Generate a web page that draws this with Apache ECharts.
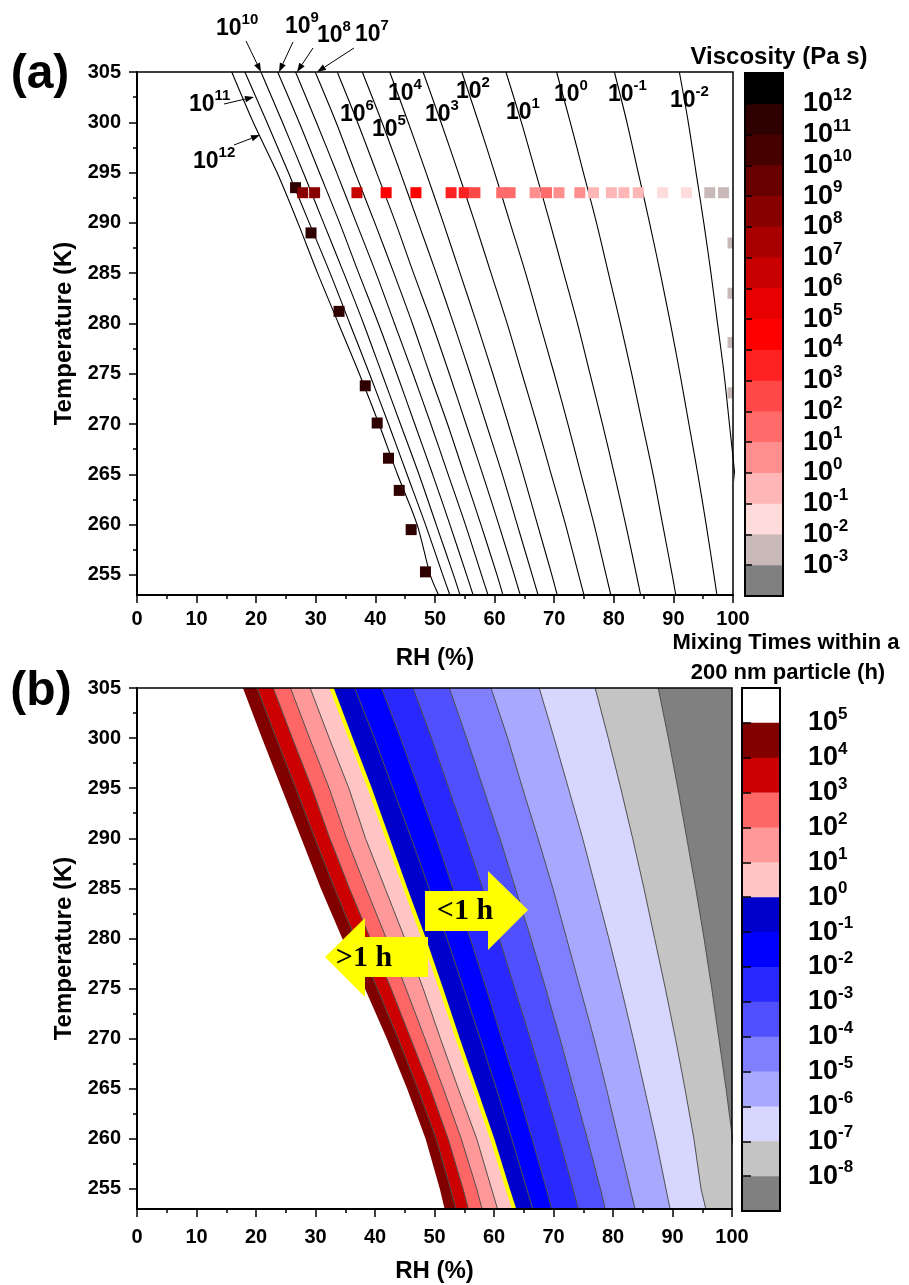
<!DOCTYPE html>
<html>
<head>
<meta charset="utf-8">
<script src="https://cdn.jsdelivr.net/npm/echarts@6/dist/echarts.min.js"></script>
<style>
  html, body { margin: 0; padding: 0; background: #fff; }
  #main { width: 909px; height: 1285px; }
</style>
</head>
<body>
<div id="main"></div>
<script>
// temperature nodes (K) where each contour RH (%) was read
const tempNodes = [305, 300, 295, 290, 285, 280, 275, 270, 265, 260, 255, 253];

// (a) viscosity contours, RH (%) at each temperature node
const visc12 = [15.9, 19.5, 23.5, 27.0, 30.3, 33.8, 37.3, 40.6, 43.7, 47.0, 49.2, 50.6];
const visc11 = [18.1, 21.8, 25.4, 28.9, 32.4, 35.7, 39.0, 42.2, 45.3, 48.4, 51.3, 52.5];
const visc10 = [20.8, 24.4, 27.9, 31.3, 34.7, 38.0, 41.1, 44.2, 47.3, 50.2, 53.1, 54.2];
const visc9 = [23.6, 27.2, 30.6, 34.0, 37.2, 40.5, 43.6, 46.6, 49.6, 52.5, 55.3, 56.4];
const visc8 = [26.6, 30.1, 33.5, 36.8, 40.1, 43.2, 46.3, 49.3, 52.2, 55.1, 57.8, 58.9];
const visc7 = [29.9, 33.4, 36.6, 39.9, 43.1, 46.2, 49.1, 52.1, 54.9, 57.7, 60.4, 61.4];
const visc6 = [33.6, 37.0, 40.2, 43.4, 46.4, 49.5, 52.4, 55.2, 58.0, 60.7, 63.3, 64.3];
const visc5 = [37.8, 41.1, 44.2, 47.2, 50.2, 53.1, 55.9, 58.6, 61.3, 63.8, 66.3, 67.3];
const visc4 = [42.4, 45.5, 48.5, 51.4, 54.2, 57.0, 59.7, 62.3, 64.8, 67.2, 69.6, 70.5];
const visc3 = [48.0, 51.0, 53.9, 56.7, 59.4, 62.1, 64.6, 67.1, 69.5, 71.9, 74.1, 75.0];
const visc2 = [54.5, 57.3, 60.0, 62.6, 65.2, 67.6, 70.0, 72.3, 74.5, 76.7, 78.7, 79.5];
const visc1 = [61.9, 64.5, 66.9, 69.3, 71.6, 73.9, 76.0, 78.1, 80.1, 82.0, 83.8, 84.5];
const visc0 = [70.4, 72.7, 74.9, 77.1, 79.1, 81.1, 83.0, 84.8, 86.6, 88.2, 89.8, 90.4];
const viscM1 = [80.1, 82.2, 84.1, 86.0, 87.8, 89.5, 91.1, 92.6, 94.1, 95.5, 96.8, 97.3];
const viscM2 = [91.0, 92.5, 93.8, 95.1, 96.3, 97.4, 98.5, 99.4, 100.3, 101.1, 101.8, 102.1];
const viscLines = [visc12, visc11, visc10, visc9, visc8, visc7, visc6, visc5, visc4,
  visc3, visc2, visc1, visc0, viscM1, viscM2];

// (a) measured points: RH, T and log10 viscosity
const pointRH = [26.6, 29.2, 33.9, 38.3, 40.3, 42.2, 44.0, 46.0, 48.4,
  27.8, 29.8, 36.9, 41.8, 46.8, 52.7, 54.9, 56.7, 61.2, 62.6, 66.8, 68.7, 70.8,
  74.3, 76.6, 79.6, 81.7, 84.1, 88.2, 92.2, 96.1, 98.4,
  100, 100, 100, 100];
const pointT = [293.5, 289.0, 281.2, 273.8, 270.1, 266.6, 263.4, 259.5, 255.3,
  293, 293, 293, 293, 293, 293, 293, 293, 293, 293, 293, 293, 293,
  293, 293, 293, 293, 293, 293, 293, 293, 293,
  288.0, 283.0, 278.1, 273.1];
const pointLogEta = [11.5, 11.5, 11.5, 11.5, 11.5, 11.5, 11.5, 11.5, 11.5,
  8.6, 8.3, 6.5, 4.6, 4.3, 3.5, 3.3, 2.7, 1.8, 1.6, 0.8, 1.2, 0.5,
  0.3, -0.3, -0.4, -0.5, -0.7, -1.3, -1.6, -2.3, -2.5,
  -2.5, -2.5, -2.5, -2.5];

// (a) colour scale, top bin (above 10^12) to bottom bin (below 10^-3)
const viscTicks = [12, 11, 10, 9, 8, 7, 6, 5, 4, 3, 2, 1, 0, -1, -2, -3];
const viscColors = ['#000000', '#2e0000', '#470000', '#680000', '#880000', '#a80000',
  '#c80000', '#e80000', '#ff0000', '#ff2222', '#ff4848', '#ff6a6a', '#ff8e8e',
  '#ffb6b6', '#ffdcdc', '#c9b9b9', '#808080'];

// (b) mixing-time boundaries (h), RH (%) at each temperature node
const mix5 = [17.8, 21.0, 24.3, 27.6, 30.9, 34.5, 38.3, 42.0, 45.4, 48.5, 50.9, 51.7];
const mix4 = [20.2, 23.4, 26.7, 29.9, 33.2, 36.7, 40.4, 43.9, 47.2, 50.3, 52.7, 53.6];
const mix3 = [22.9, 26.1, 29.4, 32.4, 35.7, 39.2, 42.7, 46.0, 49.3, 52.3, 54.8, 55.7];
const mix2 = [25.8, 29.0, 32.3, 35.2, 38.5, 41.9, 45.2, 48.4, 51.5, 54.5, 57.1, 58.0];
const mix1 = [29.1, 32.3, 35.6, 38.4, 41.7, 45.0, 48.1, 51.0, 54.0, 57.1, 59.6, 60.6];
const mix0 = [32.7, 35.9, 39.1, 42.1, 45.1, 48.2, 51.1, 53.9, 56.8, 59.7, 62.3, 63.4];
const mixM1 = [36.6, 39.9, 43.0, 46.1, 49.1, 52.1, 54.9, 57.7, 60.4, 63.0, 65.5, 66.5];
const mixM2 = [41.1, 44.3, 47.3, 50.3, 53.1, 56.0, 58.7, 61.3, 63.9, 66.4, 68.8, 69.7];
const mixM3 = [46.4, 49.5, 52.4, 55.3, 58.1, 60.9, 63.5, 66.1, 68.6, 71.0, 73.3, 74.2];
const mixM4 = [52.5, 55.4, 58.2, 61.0, 63.6, 66.2, 68.7, 71.1, 73.4, 75.7, 77.9, 78.7];
const mixM5 = [59.5, 62.3, 64.8, 67.4, 69.9, 72.2, 74.5, 76.8, 78.9, 80.9, 82.9, 83.7];
const mixM6 = [67.6, 70.1, 72.5, 74.9, 77.1, 79.3, 81.4, 83.4, 85.3, 87.2, 88.9, 89.6];
const mixM7 = [77.0, 79.2, 81.3, 83.3, 85.2, 87.0, 88.8, 90.5, 92.1, 93.6, 94.8, 95.6];
const mixM8 = [87.6, 89.3, 90.9, 92.4, 93.9, 95.3, 96.6, 97.8, 99.0, 100.1, 101.0, 101.3];
const mixLines = [mix5, mix4, mix3, mix2, mix1, mix0, mixM1, mixM2, mixM3, mixM4,
  mixM5, mixM6, mixM7, mixM8];

// (b) colour scale, top bin (above 10^5) to bottom bin (below 10^-8)
const mixTicks = [5, 4, 3, 2, 1, 0, -1, -2, -3, -4, -5, -6, -7, -8];
const mixColors = ['#ffffff', '#800000', '#cc0000', '#ff6666', '#ff9999', '#ffc4c4',
  '#0000cc', '#0000ff', '#2828ff', '#5050ff', '#8080ff', '#a8a8ff', '#d6d6ff',
  '#c4c4c4', '#808080'];

const tempMajor = [255, 260, 265, 270, 275, 280, 285, 290, 295, 300, 305];
const tempMinor = [257.5, 262.5, 267.5, 272.5, 277.5, 282.5, 287.5, 292.5, 297.5, 302.5];

const FONT = "'Liberation Sans', Arial, sans-serif";

function viscColor(v) {
  var i = viscTicks[0] - Math.floor(v);
  i = Math.max(0, Math.min(viscColors.length - 1, i));
  return viscColors[i];
}

function rhAxis(gridIndex, nameGap, margin) {
  return {
    type: "value", gridIndex: gridIndex, min: 0, max: 100, interval: 10,
    name: "RH (%)", nameLocation: "middle", nameGap: nameGap,
    nameTextStyle: { fontSize: 24, fontWeight: "bold", color: "#000", fontFamily: FONT },
    axisLine: { show: true, onZero: false, lineStyle: { color: "#000", width: 2 } },
    axisTick: { show: true, length: 8, lineStyle: { color: "#000", width: 1.5 } },
    minorTick: { show: true, splitNumber: 2, length: 4, lineStyle: { color: "#000", width: 1.5 } },
    axisLabel: { fontSize: 20, fontWeight: "bold", color: "#000", margin: margin, fontFamily: FONT },
    splitLine: { show: false }, minorSplitLine: { show: false },
    z: 10,
  };
}

function tempAxis(gridIndex) {
  return {
    type: "value", gridIndex: gridIndex, position: "left", min: 253, max: 305,
    name: "Temperature (K)", nameLocation: "middle", nameGap: 60, nameRotate: 90,
    nameTextStyle: { fontSize: 24, fontWeight: "bold", color: "#000", fontFamily: FONT },
    axisLine: { show: true, onZero: false, lineStyle: { color: "#000", width: 2 } },
    axisTick: { show: true, length: 8, customValues: tempMajor, lineStyle: { color: "#000", width: 1.5 } },
    axisLabel: { customValues: tempMajor, fontSize: 20, fontWeight: "bold", color: "#000", margin: 16, fontFamily: FONT },
    splitLine: { show: false },
    z: 10,
  };
}

function tempMinorAxis(gridIndex) {
  return {
    type: "value", gridIndex: gridIndex, position: "left", min: 253, max: 305,
    axisLine: { show: false },
    axisTick: { show: true, length: 4, customValues: tempMinor, lineStyle: { color: "#000", width: 1.5 } },
    axisLabel: { show: false },
    splitLine: { show: false },
    z: 10,
  };
}

function barAxis(gridIndex, min, max, ticks, margin, tickLen) {
  return {
    type: "value", gridIndex: gridIndex, position: "right", min: min, max: max,
    axisLine: { show: false },
    axisTick: { show: true, length: tickLen, customValues: ticks, lineStyle: { color: "#000", width: 1.5 } },
    axisLabel: {
      customValues: ticks, margin: margin,
      formatter: function (v) { return "{b|10}{s|" + v + "}"; },
      rich: {
        b: { fontSize: 27, fontWeight: "bold", lineHeight: 34, color: "#000", fontFamily: FONT },
        s: { fontSize: 17, fontWeight: "bold", lineHeight: 14, verticalAlign: "top", color: "#000", fontFamily: FONT },
      },
    },
    splitLine: { show: false },
    z: 10,
  };
}

var series = [];

// (a) contour lines
viscLines.forEach(function (arr) {
  series.push({
    type: "line", xAxisIndex: 0, yAxisIndex: 0,
    data: tempNodes.map(function (t, i) { return [arr[i], t]; }),
    symbol: "none", smooth: 0.3, clip: true, silent: true, z: 2,
    lineStyle: { color: "#000", width: 1.1 },
  });
});

// (a) measured points
series.push({
  type: "custom", xAxisIndex: 0, yAxisIndex: 0, clip: true, z: 3,
  data: pointRH.map(function (rh, i) { return [rh, pointT[i], pointLogEta[i]]; }),
  renderItem: function (params, api) {
    var p = api.coord([api.value(0), api.value(1)]);
    return {
      type: "rect",
      shape: { x: p[0] - 5.5, y: p[1] - 5.5, width: 11, height: 11 },
      style: { fill: viscColor(api.value(2)) },
    };
  },
});

// (b) filled bands, each from its boundary to the right edge
series.push({
  type: "custom", xAxisIndex: 1, yAxisIndex: 2, clip: true, z: 2,
  data: mixLines.map(function (arr, k) { return [arr[0], tempNodes[0], k]; }),
  renderItem: function (params, api) {
    var k = api.value(2);
    var arr = mixLines[k];
    var pts = tempNodes.map(function (t, j) { return api.coord([arr[j], t]); });
    pts.push(api.coord([130, tempNodes[tempNodes.length - 1]]));
    pts.push(api.coord([130, tempNodes[0]]));
    return { type: "polygon", shape: { points: pts }, style: { fill: mixColors[k + 1] } };
  },
});

// (b) boundary lines
mixLines.forEach(function (arr, k) {
  if (k === 0) return;
  var isOneHour = mixTicks[k] === 0;
  series.push({
    type: "line", xAxisIndex: 1, yAxisIndex: 2,
    data: tempNodes.map(function (t, i) { return [arr[i], t]; }),
    symbol: "none", clip: true, silent: true, z: isOneHour ? 4 : 3,
    lineStyle: isOneHour ? { color: "#ffff00", width: 4 } : { color: "#505050", width: 1 },
  });
});

// colour bars
series.push({
  type: "custom", xAxisIndex: 2, yAxisIndex: 4, z: 2,
  data: viscColors.map(function (c, i) { return [0, viscTicks[0] - i, i]; }),
  renderItem: function (params, api) {
    var i = api.value(2);
    var top = viscTicks[0] + 1 - i;
    var p1 = api.coord([0, top]);
    var p2 = api.coord([1, top - 1]);
    return { type: "rect", shape: { x: p1[0], y: p1[1], width: p2[0] - p1[0], height: p2[1] - p1[1] + 0.6 }, style: { fill: viscColors[i] } };
  },
});
series.push({
  type: "custom", xAxisIndex: 3, yAxisIndex: 5, z: 2,
  data: mixColors.map(function (c, i) { return [0, mixTicks[0] - i, i]; }),
  renderItem: function (params, api) {
    var i = api.value(2);
    var top = mixTicks[0] + 1 - i;
    var p1 = api.coord([0, top]);
    var p2 = api.coord([1, top - 1]);
    return { type: "rect", shape: { x: p1[0], y: p1[1], width: p2[0] - p1[0], height: p2[1] - p1[1] + 0.6 }, style: { fill: mixColors[i] } };
  },
});

// annotations
var contourLabels = [
  ["12", 193, 162], ["11", 189, 105], ["10", 216, 29], ["9", 285, 27], ["8", 317, 36],
  ["7", 355, 35], ["6", 340, 115], ["5", 372, 130], ["4", 388, 94], ["3", 425, 115],
  ["2", 456, 92], ["1", 506, 113], ["0", 554, 95], ["-1", 608, 95], ["-2", 670, 101],
];
var labelArrows = [
  [246, 41, 261, 72], [293, 42, 279, 72], [313, 48, 297, 72], [354, 48, 317, 72],
  [224, 104, 254, 97], [234, 145, 260, 135],
];

function arrowGraphic(x1, y1, x2, y2) {
  var ang = Math.atan2(y2 - y1, x2 - x1);
  var len = 9, half = 3.2;
  var bx = x2 - len * Math.cos(ang), by = y2 - len * Math.sin(ang);
  var nx = -Math.sin(ang) * half, ny = Math.cos(ang) * half;
  return [
    { type: "line", z: 100, shape: { x1: x1, y1: y1, x2: bx, y2: by }, style: { stroke: "#000", lineWidth: 1 } },
    { type: "polygon", z: 100, shape: { points: [[x2, y2], [bx + nx, by + ny], [bx - nx, by - ny]] }, style: { fill: "#000" } },
  ];
}

var supRich = {
  b: { fontSize: 23, fontWeight: "bold", lineHeight: 34, fill: "#000", fontFamily: FONT },
  s: { fontSize: 15, fontWeight: "bold", lineHeight: 12, verticalAlign: "top", fill: "#000", fontFamily: FONT },
};

var graphics = [];
contourLabels.forEach(function (l) {
  graphics.push({
    type: "text", x: l[1], y: l[2], z: 100,
    style: { text: "{b|10}{s|" + l[0] + "}", rich: supRich, align: "left", verticalAlign: "middle" },
  });
});
labelArrows.forEach(function (a) {
  graphics = graphics.concat(arrowGraphic(a[0], a[1], a[2], a[3]));
});

function plainText(text, x, y, size, align) {
  return {
    type: "text", x: x, y: y, z: 100,
    style: { text: text, fontSize: size, fontWeight: "bold", fontFamily: FONT, fill: "#000", align: align || "center", verticalAlign: "middle" },
  };
}

graphics.push(plainText("(a)", 40, 75, 48));
graphics.push(plainText("(b)", 41, 692, 48));
graphics.push(plainText("Viscosity (Pa s)", 779, 57, 24));
graphics.push(plainText("Mixing Times within a", 786, 643, 22));
graphics.push(plainText("200 nm particle (h)", 788, 673, 22));

// yellow arrows in (b)
graphics.push({
  type: "polygon", z: 100,
  shape: { points: [[425, 891], [488, 891], [488, 871], [528, 910], [488, 950], [488, 931], [425, 931]] },
  style: { fill: "#ffff00" },
});
graphics.push({
  type: "polygon", z: 100,
  shape: { points: [[325, 957], [365, 918], [365, 937], [428, 937], [428, 977], [365, 977], [365, 997]] },
  style: { fill: "#ffff00" },
});
graphics.push({
  type: "text", x: 465, y: 911, z: 101,
  style: { text: "<1 h", fontSize: 30, fontWeight: "bold", fontFamily: "'Liberation Serif', 'Times New Roman', serif", fill: "#000", align: "center", verticalAlign: "middle" },
});
graphics.push({
  type: "text", x: 364, y: 958, z: 101,
  style: { text: ">1 h", fontSize: 30, fontWeight: "bold", fontFamily: "'Liberation Serif', 'Times New Roman', serif", fill: "#000", align: "center", verticalAlign: "middle" },
});

var myChart = echarts.init(document.getElementById("main"), null, { renderer: "canvas" });

var option = {
  backgroundColor: "#ffffff",
  animation: false,
  grid: [
    { left: 137, top: 72, width: 596, height: 523, show: true, borderColor: "#000", borderWidth: 1.5, z: 10 },
    { left: 137, top: 688, width: 595, height: 521, show: true, borderColor: "#000", borderWidth: 1.5, z: 10 },
    { left: 745, top: 73, width: 38, height: 523, show: true, borderColor: "#000", borderWidth: 2, z: 10 },
    { left: 742, top: 688, width: 38, height: 523, show: true, borderColor: "#000", borderWidth: 2, z: 10 },
  ],
  xAxis: [
    rhAxis(0, 51, 14),
    rhAxis(1, 50, 18),
    { type: "value", gridIndex: 2, min: 0, max: 1, show: false },
    { type: "value", gridIndex: 3, min: 0, max: 1, show: false },
  ],
  yAxis: [
    tempAxis(0),
    tempMinorAxis(0),
    tempAxis(1),
    tempMinorAxis(1),
    barAxis(2, viscTicks[viscTicks.length - 1] - 1, viscTicks[0] + 1, viscTicks, 20, 7),
    barAxis(3, mixTicks[mixTicks.length - 1] - 1, mixTicks[0] + 1, mixTicks, 28, 9),
  ],
  series: series,
  graphic: { elements: graphics },
};

myChart.setOption(option);
window.addEventListener("resize", myChart.resize);
</script>
</body>
</html>
